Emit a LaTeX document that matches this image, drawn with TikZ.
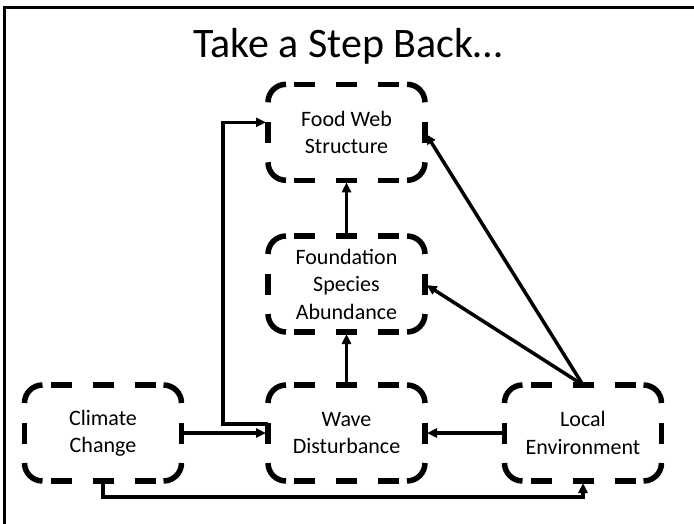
\documentclass[tikz,border=0pt]{standalone}
\usepackage{fontspec}
\setmainfont{Carlito}
\usetikzlibrary{arrows.meta,calc}

% Border of a box: solid rounded corners, sides dashed from their midpoints
\newcommand\drawdashbox[1]{%
  \draw[boxline,rounded corners=18pt] ($(#1.north west)+(0,18)$) -- (#1.north west) -- ($(#1.north west)+(18,0)$);
  \draw[boxline,rounded corners=18pt] ($(#1.north east)+(-18,0)$) -- (#1.north east) -- ($(#1.north east)+(0,18)$);
  \draw[boxline,rounded corners=18pt] ($(#1.south east)+(0,-18)$) -- (#1.south east) -- ($(#1.south east)+(-18,0)$);
  \draw[boxline,rounded corners=18pt] ($(#1.south west)+(18,0)$) -- (#1.south west) -- ($(#1.south west)+(0,-18)$);
  \draw[boxdash] (#1.north) -- ($(#1.north west)+(18,0)$);
  \draw[boxdash] (#1.north) -- ($(#1.north east)+(-18,0)$);
  \draw[boxdash] (#1.south) -- ($(#1.south west)+(18,0)$);
  \draw[boxdash] (#1.south) -- ($(#1.south east)+(-18,0)$);
  \draw[boxdash] (#1.west) -- ($(#1.north west)+(0,18)$);
  \draw[boxdash] (#1.west) -- ($(#1.south west)+(0,-18)$);
  \draw[boxdash] (#1.east) -- ($(#1.north east)+(0,18)$);
  \draw[boxdash] (#1.east) -- ($(#1.south east)+(0,-18)$);
}

\begin{document}
\begin{tikzpicture}[x=1pt,y=-1pt,
  boxtext/.style={minimum width=157pt,minimum height=96pt,inner sep=0pt,outer sep=0pt,
    align=center,font=\fontsize{22}{27.5}\selectfont},
  boxline/.style={line width=5.5pt,line cap=butt},
  boxdash/.style={boxline,dash pattern=on 21pt off 21pt,dash phase=10.5pt},
  conn/.style={line width=3.5pt,-{Triangle[length=10pt,width=9pt]},shorten >=2pt},
  frame/.style={line width=3pt}]

\useasboundingbox (0,0) rectangle (694,523);
\clip (0,0) rectangle (694,523);

% slide frame
\draw[frame] (4.5,530) -- (4.5,7.5) -- (700,7.5);

% title
\node[font=\fontsize{42}{50}\selectfont,anchor=base,inner sep=0pt] (title) at (348,57.3) {Take a Step Back…};

% boxes
\node[boxtext] (food)       at (346.5,132.3) {Food Web\\Structure};
\node[boxtext] (foundation) at (346.5,284)   {Foundation\\Species\\Abundance};
\node[boxtext] (climate)    at (103,433)     {Climate\\Change};
\node[boxtext] (wave)       at (346.5,433)   {Wave\\Disturbance};
\node[boxtext] (local)      at (583,433)     {Local\\Environment};

\drawdashbox{food}
\drawdashbox{foundation}
\drawdashbox{climate}
\drawdashbox{wave}
\drawdashbox{local}

% connectors
\draw[conn] ($(wave.west)+(0,-9)$) -- ++(-45,0) |- ($(food.west)+(0,-10)$);
\draw[conn] (climate.east) -- (wave.west);
\draw[conn] (foundation.north) -- (food.south);
\draw[conn] (wave.north) -- (foundation.south);
\draw[conn] (local.west) -- (wave.east);
\draw[conn] (local.north) -- (food.east);
\draw[conn] (local.north) -- (foundation.east);
\draw[conn] (climate.south) -- ++(0,16) -| (local.south);

\end{tikzpicture}
\end{document}
